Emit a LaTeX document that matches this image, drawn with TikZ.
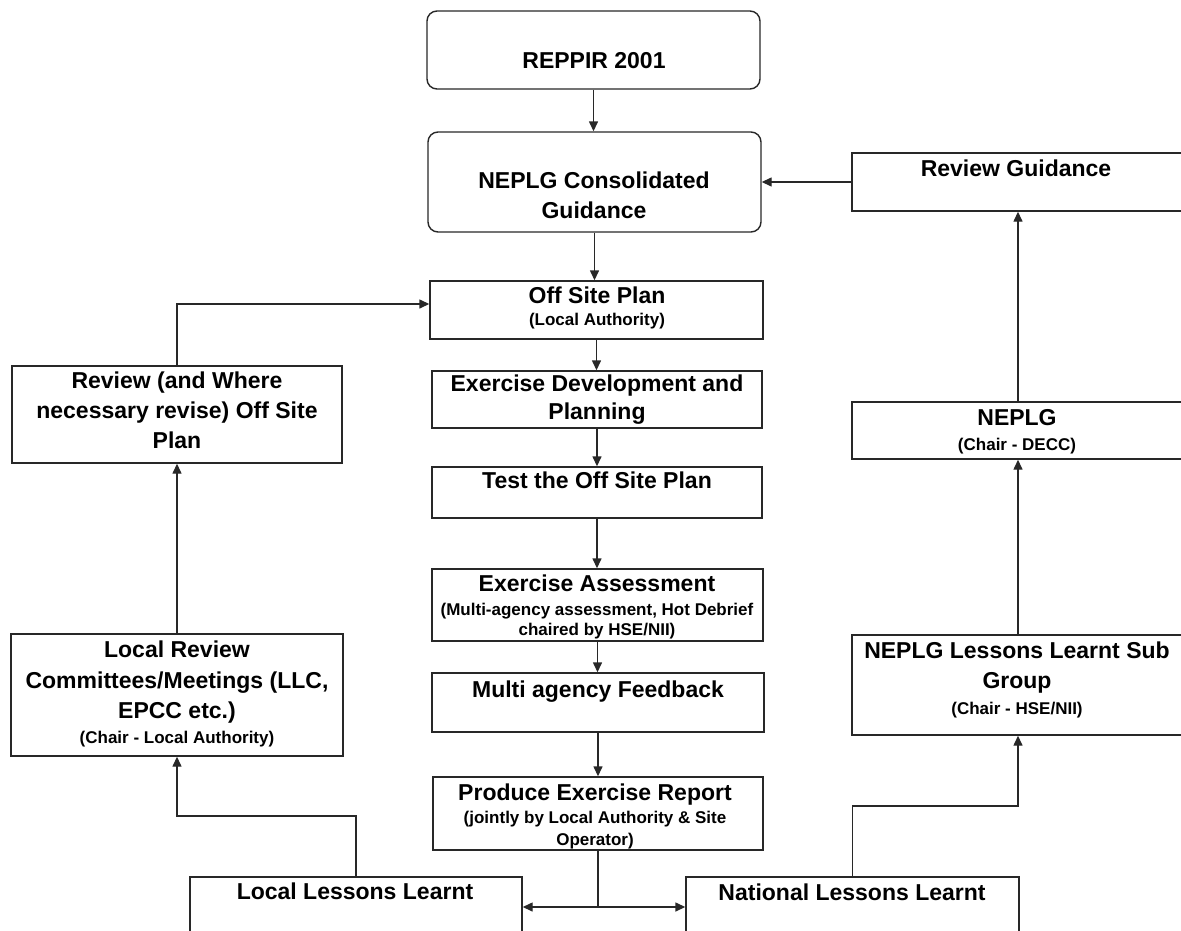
\documentclass[tikz,border=0pt]{standalone}
\usepackage{fontspec}
\setmainfont{Liberation Sans}
\usetikzlibrary{arrows.meta}
\definecolor{ln}{RGB}{40,40,40}
\tikzset{
  box/.style={draw=ln, line width=1.4pt, inner sep=0pt, fill=white},
  rbox/.style={box, rounded corners=10pt},
  big/.style={font=\bfseries\fontsize{23}{28}\selectfont, anchor=base, inner sep=0pt},
  small/.style={font=\bfseries\fontsize{17}{20}\selectfont, anchor=base, inner sep=0pt},
  conn/.style={draw=ln, line width=1.4pt},
  arr/.style={conn, -{Triangle[length=10pt,width=9pt]}},
}
\begin{document}
\begin{tikzpicture}[x=1pt,y=-1pt]
\useasboundingbox (0,0) rectangle (1181,930);
\clip (0,0) rectangle (1181,930);
% boxes
\node[rbox, minimum width=333pt, minimum height=78pt] (reppir) at (593.5,50) {};
\node[rbox, minimum width=333pt, minimum height=100pt] (neplgcg) at (594.5,182) {};
\node[box, minimum width=332pt, minimum height=58pt] (revguid) at (1018,182) {};
\node[box, minimum width=333pt, minimum height=58pt] (offsite) at (596.5,310) {};
\node[box, minimum width=330pt, minimum height=57pt] (exdev) at (597,399.5) {};
\node[box, minimum width=330pt, minimum height=51pt] (test) at (597,492.5) {};
\node[box, minimum width=331pt, minimum height=72pt] (exassess) at (597.5,605) {};
\node[box, minimum width=332pt, minimum height=59pt] (multi) at (598,702.5) {};
\node[box, minimum width=330pt, minimum height=73pt] (produce) at (598,813.5) {};
\node[box, minimum width=332pt, minimum height=83pt] (local) at (356,918.5) {};
\node[box, minimum width=333pt, minimum height=83pt] (national) at (852.5,918.5) {};
\node[box, minimum width=330pt, minimum height=97pt] (revplan) at (177,414.5) {};
\node[box, minimum width=332pt, minimum height=122pt] (localrev) at (177,695) {};
\node[box, minimum width=332pt, minimum height=57pt] (neplg) at (1018,430.5) {};
\node[box, minimum width=332pt, minimum height=100pt] (neplgll) at (1018,685) {};
% texts
\node[big] (t1) at (594,68) {REPPIR 2001};
\node[big] (t2a) at (594,188) {NEPLG Consolidated};
\node[big] (t2b) at (594,218) {Guidance};
\node[big] (t3) at (1016,176) {Review Guidance};
\node[big] (t4a) at (597,303) {Off Site Plan};
\node[small] (t4b) at (597,325) {(Local Authority)};
\node[big] (t5a) at (597,391) {Exercise Development and};
\node[big] (t5b) at (597,419) {Planning};
\node[big] (t6) at (597,488) {Test the Off Site Plan};
\node[big] (t7a) at (597,591) {Exercise Assessment};
\node[small] (t7b) at (597,615) {(Multi-agency assessment, Hot Debrief};
\node[small] (t7c) at (597,635) {chaired by HSE/NII)};
\node[big] (t8) at (598,697) {Multi agency Feedback};
\node[big] (t9a) at (595,800) {Produce Exercise Report};
\node[small] (t9b) at (595,823) {(jointly by Local Authority \& Site};
\node[small] (t9c) at (595,845) {Operator)};
\node[big] (t10) at (355,899) {Local Lessons Learnt};
\node[big] (t11) at (852,900) {National Lessons Learnt};
\node[big] (t12a) at (177,388) {Review (and Where};
\node[big] (t12b) at (177,418) {necessary revise) Off Site};
\node[big] (t12c) at (177,448) {Plan};
\node[big] (t13a) at (177,657) {Local Review};
\node[big] (t13b) at (177,688) {Committees/Meetings (LLC,};
\node[big] (t13c) at (177,718) {EPCC etc.)};
\node[small] (t13d) at (177,743) {(Chair - Local Authority)};
\node[big] (t14a) at (1017,425) {NEPLG};
\node[small] (t14b) at (1017,450) {(Chair - DECC)};
\node[big] (t15a) at (1017,658) {NEPLG Lessons Learnt Sub};
\node[big] (t15b) at (1017,688) {Group};
\node[small] (t15c) at (1017,714) {(Chair - HSE/NII)};
% connectors
\draw[arr] (reppir.south) -- (reppir.south |- neplgcg.north);
\draw[arr] (neplgcg.south) -- (neplgcg.south |- offsite.north);
\draw[arr] (offsite.south) -- (offsite.south |- exdev.north);
\draw[arr] (exdev.south) -- (exdev.south |- test.north);
\draw[arr] (test.south) -- (test.south |- exassess.north);
\draw[arr] (exassess.south) -- (exassess.south |- multi.north);
\draw[arr] (multi.south) -- (multi.south |- produce.north);
\draw[arr] (revguid.west) -- (revguid.west -| neplgcg.east);
\draw[arr] (neplg.north) -- (revguid.south);
\draw[arr] (neplgll.north) -- (neplg.south);
\coordinate (sp) at (598,907);
\draw[conn] (produce.south) -- (sp);
\draw[arr] (sp) -- (sp -| local.east);
\draw[arr] (sp) -- (sp -| national.west);
\coordinate (lc) at (177,816);
\draw[arr] (local.north) |- (lc) -- (localrev.south);
\draw[arr] (localrev.north) -- (revplan.south);
\coordinate (lp) at (177,304);
\draw[arr] (revplan.north) -- (lp) -- (lp -| offsite.west);
\coordinate (nr) at (1018,806);
\draw[arr] (national.north) |- (nr) -- (neplgll.south);
\end{tikzpicture}
\end{document}
